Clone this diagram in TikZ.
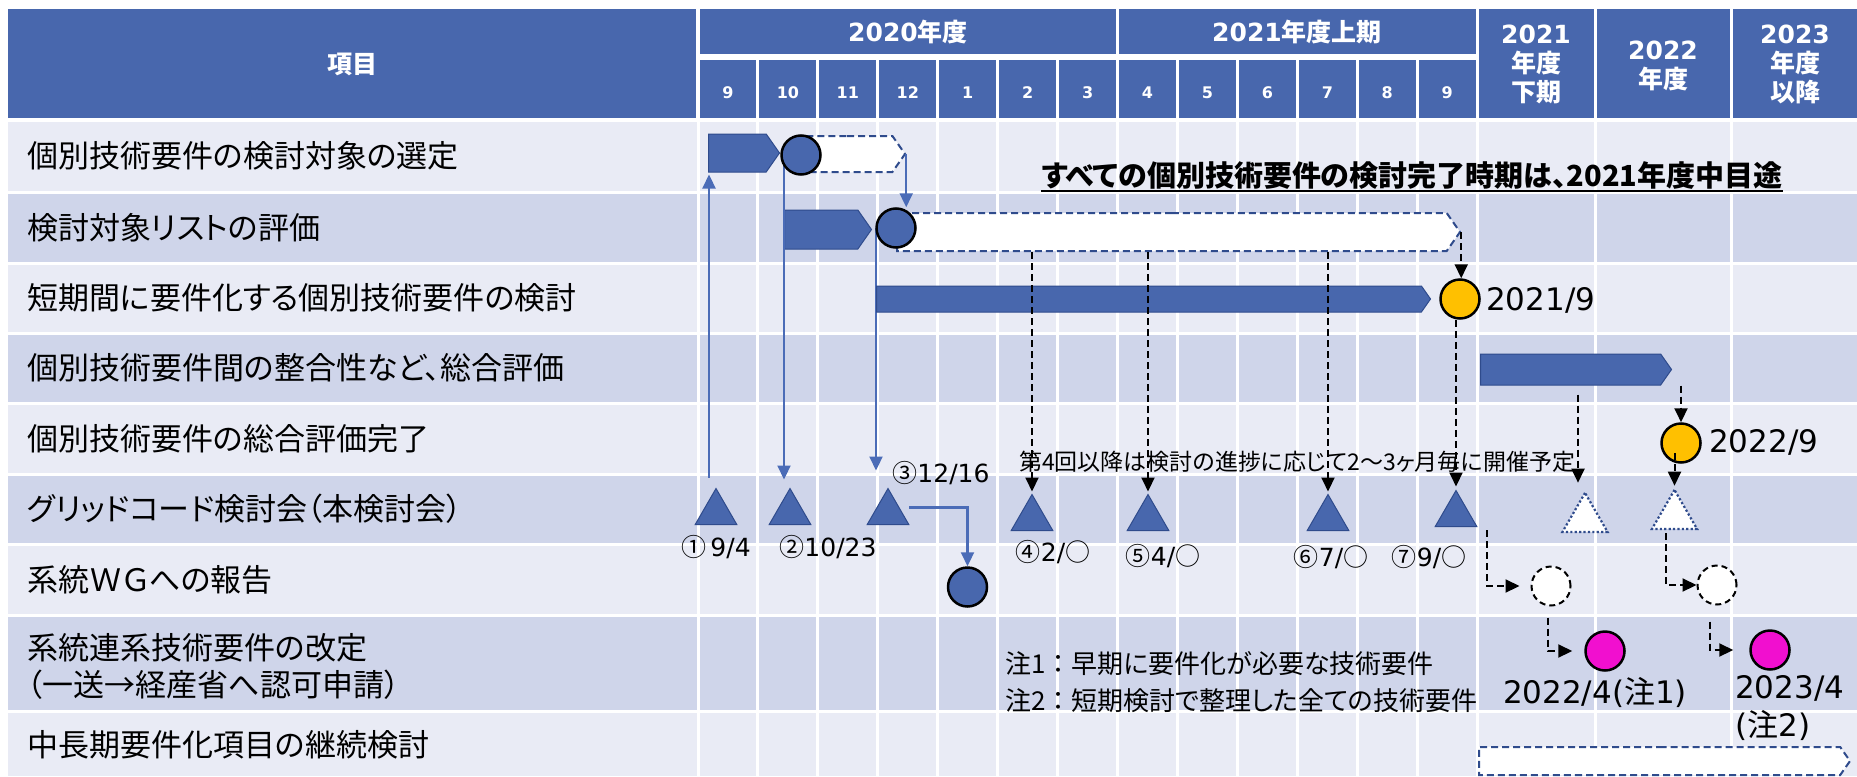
\documentclass[tikz,border=0pt]{standalone}
\usepackage{fontspec}
\usetikzlibrary{shapes.geometric,shapes.symbols,arrows.meta,calc}
\newfontfamily\jp[RawFeature=+palt]{Noto Sans CJK JP}
\newfontfamily\jpn{Noto Sans CJK JP}
\newfontfamily\dv{DejaVu Sans}
\definecolor{hdr}{HTML}{4867AD}
\definecolor{bandA}{HTML}{E9EBF5}
\definecolor{bandB}{HTML}{CFD5EA}
\definecolor{navy}{HTML}{2F4B8C}
\definecolor{gold}{HTML}{FFC000}
\definecolor{pink}{HTML}{F10FCF}
\definecolor{lineblue}{HTML}{4B6CB7}
\begin{document}
\begin{tikzpicture}[x=1pt,y=-1pt,
  hdrtxt/.style={text=white, font=\jp\bfseries\fontsize{25}{30}\selectfont, inner sep=0, align=center},
  montxt/.style={text=white, font=\dv\bfseries\fontsize{16}{19}\selectfont, inner sep=0},
  item/.style={anchor=west, inner sep=0, font=\jp\fontsize{31}{37}\selectfont, align=left},
  bluebar/.style={signal, signal to=east, signal from=nowhere, signal pointer angle=110, fill=hdr, draw=navy, line width=1pt, inner sep=0, anchor=west},
  dashbar/.style={signal, signal to=east, signal from=nowhere, signal pointer angle=110, fill=white, draw=navy, line width=2pt, dash pattern=on 7pt off 4pt, inner sep=0, anchor=west},
  bluedot/.style={circle, fill=hdr, draw=black, line width=2.5pt, minimum size=39pt, inner sep=0},
  golddot/.style={bluedot, fill=gold},
  pinkdot/.style={bluedot, fill=pink},
  opendot/.style={circle, fill=white, draw=black, line width=2pt, dash pattern=on 6pt off 4pt, minimum size=39pt, inner sep=0},
  tri/.style={regular polygon, regular polygon sides=3, fill=hdr, draw=navy, line width=1pt, minimum size=48pt, inner sep=0, anchor=south},
  opentri/.style={regular polygon, regular polygon sides=3, fill=white, draw=navy, line width=2.2pt, dash pattern=on 2.2pt off 2.2pt, minimum size=52pt, inner sep=0, anchor=south},
  barr/.style={draw=lineblue, line width=2.2pt, -{Triangle[length=14pt,width=13pt]}},
  darr/.style={draw=black, line width=2pt, dash pattern=on 7pt off 4pt, -{Triangle[length=14pt,width=13pt]}},
  lab/.style={inner sep=0, font=\jp\fontsize{25}{30}\selectfont},
  big/.style={inner sep=0, font=\dv\fontsize{31}{38}\selectfont},
  note/.style={inner sep=0, font=\jp\fontsize{26}{37}\selectfont, align=left},
]
\useasboundingbox (0,0) rectangle (1857,776);
\fill[white] (0,0) rectangle (1857,776);
% ---------- header ----------
\fill[hdr] (8,9) rectangle (696,118);
\fill[hdr] (699.5,9) rectangle (1116,54);
\fill[hdr] (1119,9) rectangle (1475.6,54);
\foreach \k in {0,...,12}
  \fill[hdr] ({699.5+59.93*\k},60) rectangle ({696.5+59.93*(\k+1)},118);
\fill[hdr] (1478.6,9) rectangle (1594,118);
\fill[hdr] (1597,9) rectangle (1730,118);
\fill[hdr] (1733,9) rectangle (1857,118);
\node[hdrtxt] (hItem) at (352,64) {項目};
\node[hdrtxt] (hY20) at (908,32) {{\dv\bfseries 2020}年度};
\node[hdrtxt] (hY21a) at (1297,32) {{\dv\bfseries 2021}年度上期};
\node[hdrtxt] (hY21b) at (1536,64) {{\dv\bfseries 2021}\\[-1pt]年度\\[-1pt]下期};
\node[hdrtxt] (hY22) at (1663,66) {{\dv\bfseries 2022}\\[-1pt]年度};
\node[hdrtxt] (hY23) at (1795,64) {{\dv\bfseries 2023}\\[-1pt]年度\\[-1pt]以降};
\foreach \m [count=\k from 0] in {9,10,11,12,1,2,3,4,5,6,7,8,9}
  \node[montxt] at ({728+59.93*\k},93) {\m};
% ---------- body rows ----------
\foreach \a/\b/\c in {122/190.5/bandA, 193.5/261.5/bandB, 264.5/331.5/bandA,
  334.5/401.5/bandB, 404.5/472.5/bandA, 475.5/542.5/bandB, 545.5/613.5/bandA,
  616.5/709.5/bandB, 712.5/776/bandA}
  \fill[\c] (8,\a) rectangle (1857,\b);
\foreach \k in {0,...,13}
  \draw[white, line width=3pt] ({698+59.93*\k},120) -- ({698+59.93*\k},776);
\draw[white, line width=3pt] (1595.5,120) -- (1595.5,776);
\draw[white, line width=3pt] (1731.5,120) -- (1731.5,776);
% ---------- item labels ----------
\node[item] (i1) at (27,156) {個別技術要件の検討対象の選定};
\node[item] (i2) at (27,227.5) {検討対象リストの評価};
\node[item] (i3) at (27,298) {短期間に要件化する個別技術要件の検討};
\node[item] (i4) at (27,368) {個別技術要件間の整合性など、総合評価};
\node[item] (i5) at (27,438.5) {個別技術要件の総合評価完了};
\node[item] (i6) at (27,509) {グリッドコード検討会（本検討会）};
\node[item] (i7) at (27,579.5) {系統ＷＧへの報告};
\node[item] (i8) at (27,666) {系統連系技術要件の改定\\（一送→経産省へ認可申請）};
\node[item] (i9) at (27,745) {中長期要件化項目の継続検討};
% ---------- bars ----------
\node[dashbar, minimum width=103pt, minimum height=36pt] (pd1) at (801,154) {};
\node[dashbar, minimum width=563pt, minimum height=38pt] (pd2) at (896,232) {};
\node[dashbar, minimum width=371pt, minimum height=28pt] (pd9) at (1478,761) {};
\node[bluebar, minimum width=71pt, minimum height=38pt] (p1) at (708,153) {};
\node[bluebar, minimum width=87pt, minimum height=39pt] (p2) at (784,229.5) {};
% triangles
\node[tri] (t1) at (716,525) {};
\node[tri] (t2) at (790,525) {};
\node[tri] (t3) at (888,525) {};
\node[tri] (t4) at (1032,531) {};
\node[tri] (t5) at (1148,531) {};
\node[tri] (t6) at (1328,531) {};
\node[tri] (t7) at (1456,527) {};
\node[opentri] (tD1) at (1585,533) {};
\node[opentri] (tD2) at (1674.5,530) {};
% blue connectors (under circles)
\draw[barr] ([shift={(-7pt,10pt)}]t1.north) -- ([shift={(1pt,-2pt)}]p1.south west);
\path (801,155) coordinate (c1c) (896,228) coordinate (c2c);
\draw[barr] ([xshift=-17pt]c1c) -- ([shift={(-6pt,8pt)}]t2.north);
\draw[barr] ([xshift=-20pt]c2c) -- ([shift={(-12pt,17pt)}]t3.north);
\node[bluebar, minimum width=554pt, minimum height=26pt] (bar3) at (876,299) {};
\node[bluebar, minimum width=191pt, minimum height=31pt] (bar4) at (1480,369.5) {};
% circles
\node[bluedot] (c1) at (c1c) {};
\node[bluedot] (c2) at (c2c) {};
\node[golddot] (g1) at (1460,299) {};
\node[golddot] (g2) at (1681,443) {};
\node[bluedot] (w1) at (967.5,587) {};
\node[opendot] (dc1) at (1551,586) {};
\node[opendot] (dc2) at (1717,585) {};
\node[pinkdot] (k1) at (1605,651) {};
\node[pinkdot] (k2) at (1770,650) {};
\draw[barr] (pd1.east) -- (pd1.east |- c2.north);
\draw[barr] ([shift={(21pt,5pt)}]t3.center) -| (w1.north);
% black dashed connectors
\draw[darr] (pd2.south -| t4.north) -- ([yshift=2pt]t4.north);
\draw[darr] (pd2.south -| t5.north) -- ([yshift=2pt]t5.north);
\draw[darr] (pd2.south -| t6.north) -- ([yshift=2pt]t6.north);
\draw[darr] (g1.south -| t7.north) -- ([yshift=3pt]t7.north);
\draw[darr] (pd2.east) -- (pd2.east |- g1.north);
\coordinate (b4s) at ([yshift=-9pt]bar4.south);
\coordinate (tD1n) at ([shift={(-7pt,8pt)}]tD1.north);
\draw[darr] (b4s -| tD1n) -- (tD1n);
\draw[darr] (g2.north |- bar4.south) -- (g2.north);
\coordinate (g2s) at ([yshift=-10pt]g2.center);
\draw[darr] (g2s -| tD2.north) -- ([yshift=2pt]tD2.north);
\draw[darr] ([shift={(31pt,-3pt)}]t7.south) |- ([xshift=-11pt]dc1.west);
\draw[darr] ([shift={(-8.5pt,-3pt)}]tD2.south) |- (dc2.west);
\draw[darr] ([shift={(-3pt,-11pt)}]dc1.south) |- ([xshift=-12pt]k1.west);
\draw[darr] ([shift={(-7pt,-16pt)}]dc2.south) |- ([xshift=-16pt]k2.west);
% ---------- texts ----------
\node[inner sep=0, font=\jp\bfseries\fontsize{29}{34}\selectfont] (title) at (1412,176)
  {すべての個別技術要件の検討完了時期は、2021年度中目途};
\draw[line width=2.5pt] (title.west |- 0,191) -- (title.east |- 0,191);
\node[inner sep=0, anchor=west, font=\jp\fontsize{23}{28}\selectfont] (annot) at (1019,462)
  {第4回以降は検討の進捗に応じて2～3ヶ月毎に開催予定};
\node[lab] (l1) at (716,547) {①\,{\dv 9/4}};
\node[lab] (l2) at (828,547) {②{\dv 10/23}};
\node[lab] (l3) at (941,473) {③{\dv 12/16}};
\node[lab] (l4) at (1053,552) {④{\dv 2/}○};
\node[lab] (l5) at (1163,556) {⑤{\dv 4/}○};
\node[lab] (l6) at (1331,557) {⑥{\dv 7/}○};
\node[lab] (l7) at (1429,557) {⑦{\dv 9/}○};
\node[big, anchor=west] (g1t) at (1486,300) {2021/9};
\node[big, anchor=west] (g2t) at (1709,442) {2022/9};
\node[big] (k1t) at (1595,692) {2022/4({\jp 注}1)};
\node[big, anchor=west, align=left] (k2t) at (1735,708) {2023/4\\({\jp 注}2)};
\node[note, anchor=west] (notes) at (1005,682) {注1{\jpn ：}早期に要件化が必要な技術要件\\注2{\jpn ：}短期検討で整理した全ての技術要件};
\end{tikzpicture}
\end{document}
